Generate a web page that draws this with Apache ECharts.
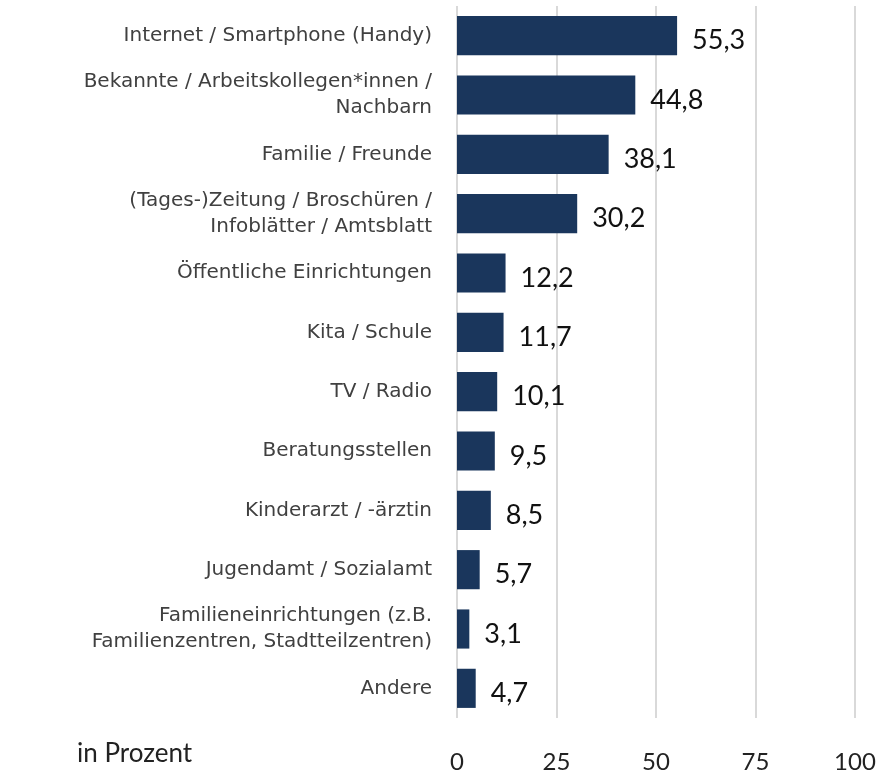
<!DOCTYPE HTML>
<html>
<head>
<meta charset="utf-8">
<title>Informationsquellen</title>
<script src="https://cdn.jsdelivr.net/npm/echarts@6/dist/echarts.min.js"></script>
<style>
    body, div { margin: 0; padding: 0; border: 0; }
    #graphic { width: 878px; height: 771px; background: #fff; }
</style>
</head>
<body>
<div id="graphic"></div>
<script type="text/javascript">
// Kategorien von oben nach unten
var categories = [
    'Internet / Smartphone (Handy)',
    'Bekannte / Arbeitskollegen*innen /\nNachbarn',
    'Familie / Freunde',
    '(Tages-)Zeitung / Broschüren /\nInfoblätter / Amtsblatt',
    'Öffentliche Einrichtungen',
    'Kita / Schule',
    'TV / Radio',
    'Beratungsstellen',
    'Kinderarzt / -ärztin',
    'Jugendamt / Sozialamt',
    'Familieneinrichtungen (z.B.\nFamilienzentren, Stadtteilzentren)',
    'Andere'
];
var values = [55.3, 44.8, 38.1, 30.2, 12.2, 11.7, 10.1, 9.5, 8.5, 5.7, 3.1, 4.7];
var xTicks = [0, 25, 50, 75, 100];
var unitLabel = 'in Prozent';

var myChart = echarts.init(document.getElementById('graphic'));

option = {
    animation: false,
    grid: { left: 457, right: 23, top: 6, bottom: 53, outerBoundsMode: 'none' },
    graphic: [{
        type: 'text',
        left: 77,
        top: 741,
        style: { text: unitLabel, font: '26px Lato', fill: '#222' }
    }],
    xAxis: {
        type: 'value',
        min: xTicks[0],
        max: xTicks[xTicks.length - 1],
        interval: 25,
        axisLine: { show: false },
        axisTick: { show: false },
        splitLine: { lineStyle: { color: '#d9d9d9', width: 2 } },
        axisLabel: {
            margin: 32,
            fontFamily: 'Lato',
            fontSize: 24,
            color: '#222'
        }
    },
    yAxis: {
        type: 'category',
        inverse: true,
        data: categories,
        axisLine: { show: false },
        axisTick: { show: false },
        axisLabel: {
            margin: 25,
            fontFamily: 'DejaVu Sans',
            fontSize: 20,
            lineHeight: 26,
            color: '#404040',
            align: 'right'
        }
    },
    series: [{
        type: 'bar',
        data: values,
        barWidth: '66%',
        itemStyle: { color: '#1a365c' },
        label: {
            show: true,
            position: 'right',
            distance: 15,
            fontFamily: 'Lato',
            fontSize: 27,
            color: '#111',
            offset: [0, 5],
            formatter: function (p) { return p.value.toFixed(1).replace('.', ','); }
        }
    }]
};
myChart.setOption(option);
</script>
</body>
</html>
